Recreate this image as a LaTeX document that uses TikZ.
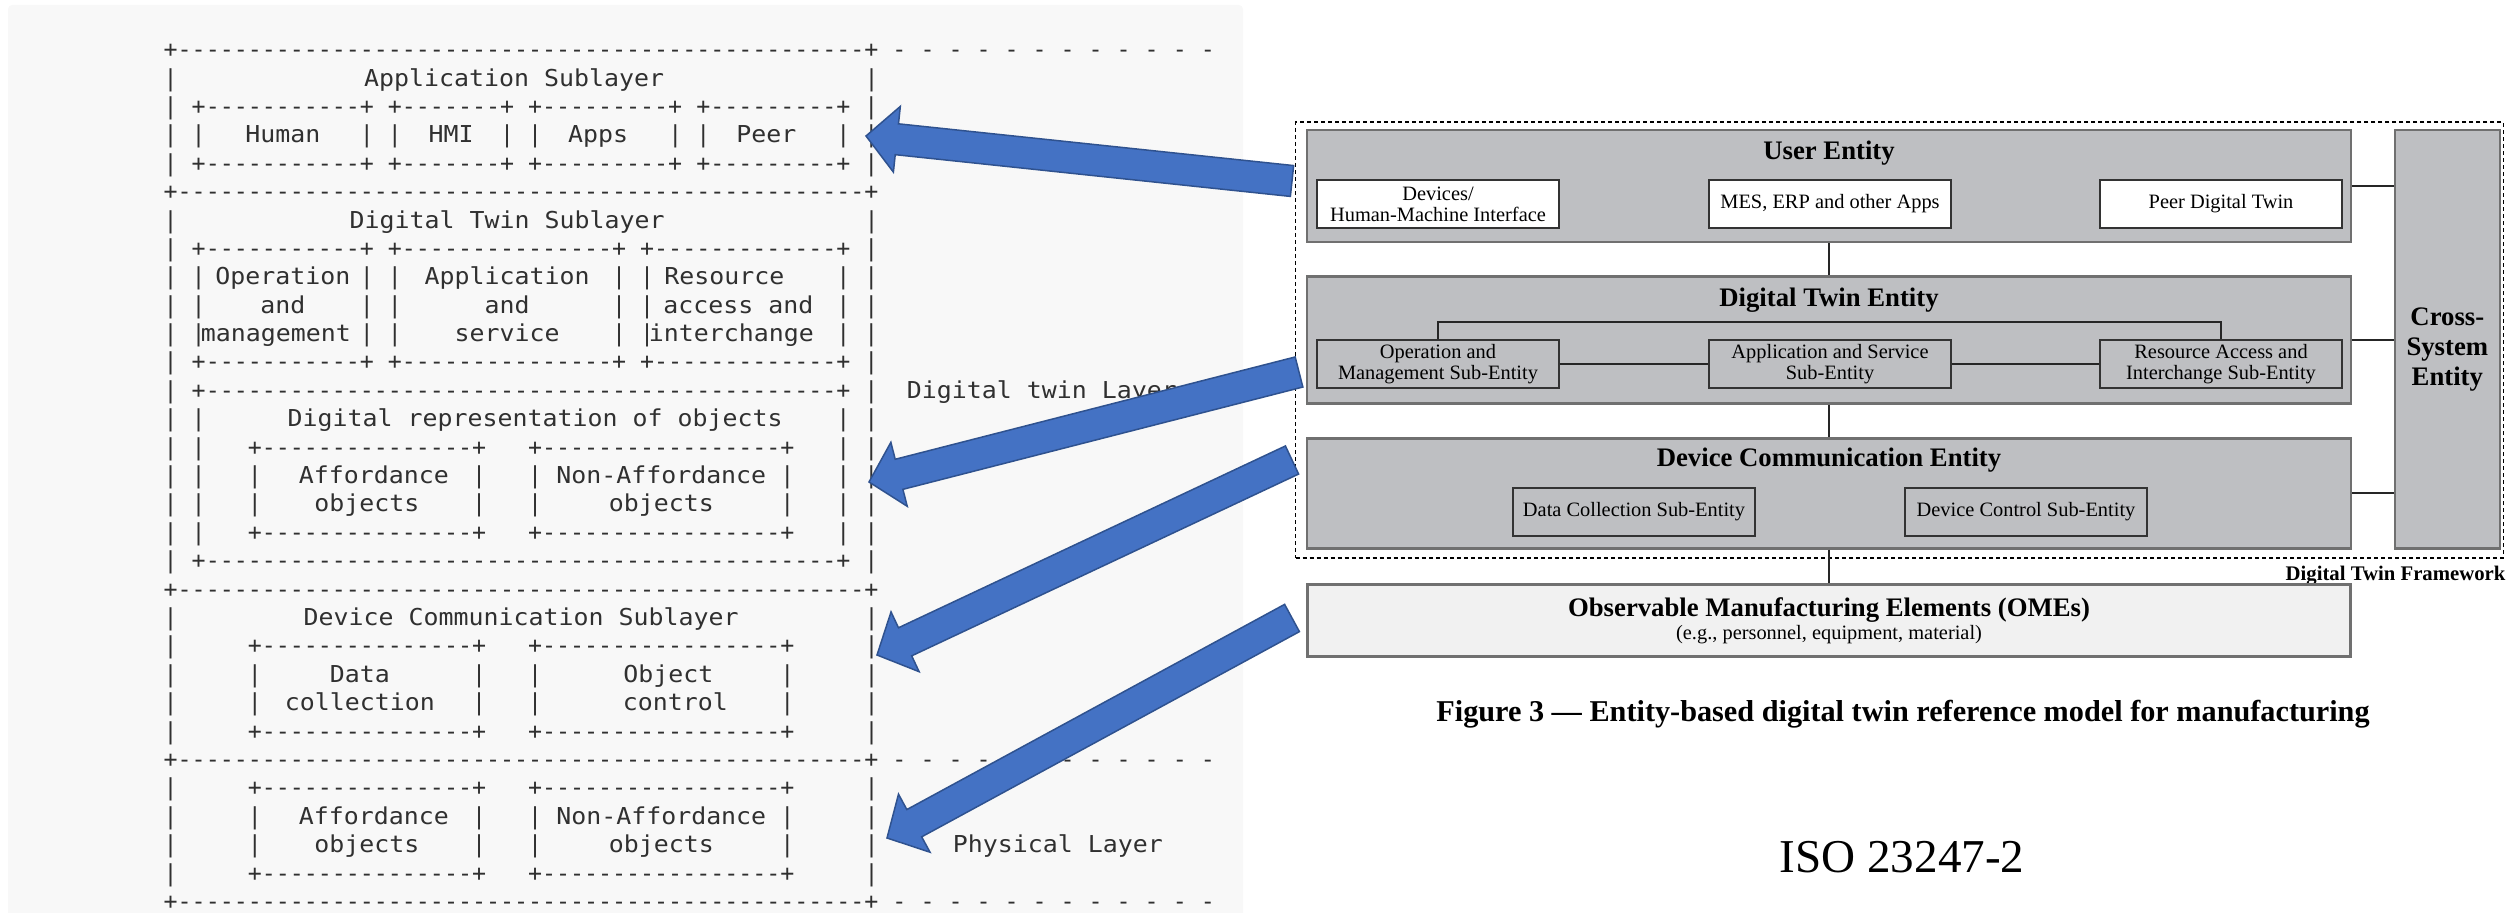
\documentclass[tikz,border=0pt]{standalone}
\usepackage{fontspec}
\setmainfont{Liberation Serif}
\setmonofont{DejaVu Sans Mono}
\newfontfamily\widemono{DejaVu Sans Mono}[FakeStretch=1.07]
\usetikzlibrary{calc}

\definecolor{asciigray}{RGB}{48,48,48}
\definecolor{panelbg}{RGB}{248,248,248}
\definecolor{entfill}{RGB}{190,191,194}
\definecolor{entline}{RGB}{112,112,112}
\definecolor{omefill}{RGB}{241,241,241}
\definecolor{arrowblue}{RGB}{68,114,196}
\definecolor{arrowedge}{RGB}{47,82,143}

% n blanks / n hyphens of the monospaced font
\newcommand{\sk}[1]{\hspace*{#1\fontcharwd\font45}}
\newcommand{\dsh}[1]{\foreach\j in {1,...,#1}{-}}
% a label: slightly wider letters, centred on its own cells
\newcommand{\lb}[1]{\setbox0\hbox{#1}\makebox[\wd0]{\widemono #1}}
% block arrow from tail #1 to tip #2
\newcommand{\blockarrow}[2]{%
  \coordinate (#2b) at ($(#2)!3.1mm!(#1)$);
  \filldraw[bigarrow] (#2)
    -- ($(#2b)!3.3mm!90:(#1)$) -- ($(#2b)!1.55mm!90:(#1)$)
    -- ($(#1)!1.55mm!-90:(#2)$) -- ($(#1)!1.55mm!90:(#2)$)
    -- ($(#2b)!1.55mm!-90:(#1)$) -- ($(#2b)!3.3mm!-90:(#1)$) -- cycle;}

\begin{document}
\begin{tikzpicture}[x=0.01cm, y=-0.01cm,
	asciirow/.style={anchor=base west, inner sep=0pt, text=asciigray, font=\ttfamily\fontsize{6.62}{8}\selectfont},
	entity/.style={draw=entline, line width=0.25mm, fill=entfill, inner sep=0pt, minimum width=104.3mm},
	subbox/.style={draw=black!80, line width=0.2mm, inner sep=0pt, minimum width=24.1mm, minimum height=4.8mm, align=center, font=\fontsize{5.8}{6}\selectfont},
	enttitle/.style={font=\bfseries\fontsize{7.6}{8.5}\selectfont, inner sep=0pt},
	link/.style={draw=black!85, line width=0.2mm},
	bigarrow/.style={fill=arrowblue, draw=arrowedge, line width=0.15mm}]
	\useasboundingbox (0,0) rectangle (2510,913);
	\fill[panelbg, rounded corners=0.4mm] (8,5) rectangle (1243,930);

	% left: the layered ascii picture, one node per line
	\foreach \row [count=\k] in {
		{+\dsh{49}+ - - - - - - - - - - - -},
		{|\sk{14}\lb{Application Sublayer}\sk{15}|},
		{| +\dsh{11}+ +\dsh{7}+ +\dsh{9}+ +\dsh{9}+ |},
		{| |\sk{3}\lb{Human}\sk{3}| |\sk{2}\lb{HMI}\sk{2}| |\sk{2}\lb{Apps}\sk{3}| |\sk{2}\lb{Peer}\sk{3}| |},
		{| +\dsh{11}+ +\dsh{7}+ +\dsh{9}+ +\dsh{9}+ |},
		{+\dsh{49}+},
		{|\sk{13}\lb{Digital Twin Sublayer}\sk{15}|},
		{| +\dsh{11}+ +\dsh{15}+ +\dsh{13}+ |},
		{| | \lb{Operation} | |\sk{2}\lb{Application}\sk{2}| | \lb{Resource}\sk{4}| |},
		{| |\sk{4}\lb{and}\sk{4}| |\sk{6}\lb{and}\sk{6}| | \lb{access and}\sk{2}| |},
		{| |\lb{management} | |\sk{4}\lb{service}\sk{4}| |\lb{interchange}\sk{2}| |},
		{| +\dsh{11}+ +\dsh{15}+ +\dsh{13}+ |},
		{| +\dsh{45}+ |\sk{2.65}\lb{Digital twin Layer}},
		{| |\sk{7}\lb{Digital representation of objects}\sk{5}| |},
		{| |\sk{3}+\dsh{15}+\sk{3}+\dsh{17}+\sk{3}| |},
		{| |\sk{3}|\sk{3}\lb{Affordance}\sk{2}|\sk{3}|\sk{1.5}\lb{Non-Affordance}\sk{1.5}|\sk{3}| |},
		{| |\sk{3}|\sk{4}\lb{objects}\sk{4}|\sk{3}|\sk{5}\lb{objects}\sk{5}|\sk{3}| |},
		{| |\sk{3}+\dsh{15}+\sk{3}+\dsh{17}+\sk{3}| |},
		{| +\dsh{45}+ |},
		{+\dsh{49}+},
		{|\sk{10}\lb{Device Communication Sublayer}\sk{10}|},
		{|\sk{5}+\dsh{15}+\sk{3}+\dsh{17}+\sk{5}|},
		{|\sk{5}|\sk{5}\lb{Data}\sk{6}|\sk{3}|\sk{6}\lb{Object}\sk{5}|\sk{5}|},
		{|\sk{5}|\sk{2}\lb{collection}\sk{3}|\sk{3}|\sk{6}\lb{control}\sk{4}|\sk{5}|},
		{|\sk{5}+\dsh{15}+\sk{3}+\dsh{17}+\sk{5}|},
		{+\dsh{49}+ - - - - - - - - - - - -},
		{|\sk{5}+\dsh{15}+\sk{3}+\dsh{17}+\sk{5}|},
		{|\sk{5}|\sk{3}\lb{Affordance}\sk{2}|\sk{3}|\sk{1.5}\lb{Non-Affordance}\sk{1.5}|\sk{5}|},
		{|\sk{5}|\sk{4}\lb{objects}\sk{4}|\sk{3}|\sk{5}\lb{objects}\sk{5}|\sk{5}|\sk{5.8}\lb{Physical Layer}},
		{|\sk{5}+\dsh{15}+\sk{3}+\dsh{17}+\sk{5}|},
		{+\dsh{49}+ - - - - - - - - - - - -}}
		\node[asciirow] (row\k) at (163, {57.7+(\k-1)*28.39}) {\row};

	% right: entity-based reference model
	\node[draw, dashed, dash pattern=on 0.4mm off 0.3mm, line width=0.15mm, minimum width=120.7mm, minimum height=43.6mm] (dtframe) at (1899.5,340) {};
	\node[font=\bfseries\fontsize{5.9}{7}\selectfont, anchor=north east, inner sep=0pt] (fwlabel) at ([yshift=-0.7mm, xshift=0.2mm]dtframe.south east) {Digital Twin Framework};

	\node[entity, minimum height=11.2mm] (userent) at (1829,186) {};
	\node[entity, minimum height=12.7mm] (dtent) at (1829,340) {};
	\node[entity, minimum height=11mm] (dcent) at (1829,493.3) {};
	\node[entity, minimum width=10.5mm, minimum height=41.8mm] (crossent) at (2447.3,339.2) {};
	\node[enttitle] (usertitle) at ([yshift=-2.45mm]userent.north) {User Entity};
	\node[enttitle] (dttitle) at ([yshift=-2.45mm]dtent.north) {Digital Twin Entity};
	\node[enttitle] (dctitle) at ([yshift=-2.3mm]dcent.north) {Device Communication Entity};
	\node[enttitle, align=center] (crosstitle) at ([yshift=-1mm]crossent.center) {Cross-\\System\\Entity};

	\node[subbox, fill=white] (hmi) at (1438,204) {Devices/\\Human-Machine Interface};
	\node[subbox, fill=white] (apps) at (1830,204) {MES, ERP and other Apps};
	\node[subbox, fill=white] (peer) at (2221,204) {Peer Digital Twin};
	\node[subbox, fill=entfill] (opsub) at (1438,364) {Operation and\\Management Sub-Entity};
	\node[subbox, fill=entfill] (appsub) at (1830,364) {Application and Service\\Sub-Entity};
	\node[subbox, fill=entfill] (ressub) at (2221,364) {Resource Access and\\Interchange Sub-Entity};
	\node[subbox, fill=entfill] (datasub) at (1634,511.7) {Data Collection Sub-Entity};
	\node[subbox, fill=entfill] (ctrlsub) at (2026,511.7) {Device Control Sub-Entity};

	\node[draw=entline, line width=0.3mm, fill=omefill, minimum width=104.3mm, minimum height=7.2mm, inner sep=0pt, align=center, font=\fontsize{5.8}{6.4}\selectfont] (omes) at (1829,620.8)
		{{\bfseries\fontsize{7.6}{6.4}\selectfont Observable Manufacturing Elements (OMEs)}\\(e.g., personnel, equipment, material)};

	\draw[link] (userent) -- (dtent);
	\draw[link] (dtent) -- (dcent);
	\draw[link] (dcent) -- (omes);
	\draw[link] (opsub) -- (appsub);
	\draw[link] (appsub) -- (ressub);
	\draw[link] (opsub.north) -- ++(0,-17) -| (ressub.north);
	\foreach \e in {userent, dtent, dcent}
		\draw[link] (\e.east) -- (\e.east -| crossent.west);

	\node[font=\bfseries\fontsize{8.6}{10}\selectfont] (caption) at (1903,714) {Figure 3 — Entity-based digital twin reference model for manufacturing};
	\node[font=\fontsize{13.4}{15}\selectfont] (isolabel) at (1902,857) {ISO 23247-2};

	% blue arrows from the entities back to the ascii layers
	\coordinate (tail1) at (1292,181); \coordinate (tip1) at (866,136);
	\coordinate (tail2) at (1299,372); \coordinate (tip2) at (869,482);
	\coordinate (tail3) at (1292,460); \coordinate (tip3) at (877,655);
	\coordinate (tail4) at (1292,618); \coordinate (tip4) at (887,838);
	\foreach \n in {1,...,4} {\blockarrow{tail\n}{tip\n}}
\end{tikzpicture}
\end{document}
